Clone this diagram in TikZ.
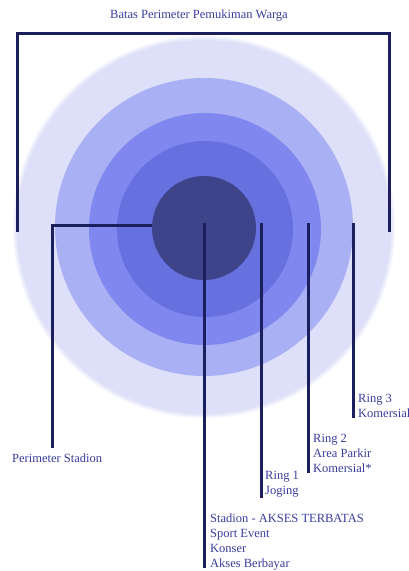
\documentclass[tikz,border=0pt]{standalone}
\usepackage{fontspec}
\setmainfont{Liberation Serif}
\definecolor{ringA}{HTML}{DDE0F8}
\definecolor{ringB}{HTML}{AAB0F4}
\definecolor{ringC}{HTML}{8088F0}
\definecolor{ringD}{HTML}{6770DF}
\definecolor{coreC}{HTML}{3F4389}
\definecolor{lineC}{HTML}{1C1F5E}
\definecolor{textC}{HTML}{3A3E9E}
\tikzset{
  disc/.style={circle, inner sep=0pt, draw=none},
  leader/.style={draw=lineC, line width=3pt},
  label/.style={font=\fontsize{12.5}{15}\selectfont, text=textC, align=left, inner sep=0pt, anchor=north west},
}
\begin{document}
\begin{tikzpicture}[x=1pt,y=-1pt]
\useasboundingbox (0,0) rectangle (409,571);
\fill[white] (0,0) rectangle (409,571);
% rings (outer one with a soft edge)
\node[disc, fill=ringA!35, minimum size=382pt] (r4c) at (204,227) {};
\node[disc, fill=ringA!70, minimum size=378pt] (r4b) at (204,227) {};
\node[disc, fill=ringA, minimum size=374pt] (r4) at (204,227) {};
\node[disc, fill=ringB, minimum size=298pt] (r3) at (204,227) {};
\node[disc, fill=ringC, minimum size=232pt] (r2) at (205,229) {};
\node[disc, fill=ringD, minimum size=176pt] (r1) at (205,229) {};
\node[disc, fill=coreC, minimum size=104pt] (core) at (204,228) {};
% title and boundary bracket
\node[label, anchor=north] (title) at (199,10) {Batas Perimeter Pemukiman Warga};
\coordinate (bl) at (17,232);
\coordinate (br) at (389,232);
\draw[leader] (bl) |- (389,33) -- (br);
% perimeter stadion
\coordinate (psend) at (52,448);
\draw[leader] (core.west |- 0,225) -| (psend);
\node[label] (pstext) at (12,454) {Perimeter Stadion};
% stadion
\coordinate (s0) at (204,223);
\coordinate (s1) at (204,568);
\draw[leader] (s0) -- (s1);
\node[label] (stext) at (210,514) {Stadion - AKSES TERBATAS\\Sport Event\\Konser\\Akses Berbayar};
% ring 1
\coordinate (a0) at (261,223);
\coordinate (a1) at (261,498);
\draw[leader] (a0) -- (a1);
\node[label] (atext) at (265,471) {Ring 1\\Joging};
% ring 2
\coordinate (b0) at (308,223);
\coordinate (b1) at (308,473);
\draw[leader] (b0) -- (b1);
\node[label] (btext) at (313,434) {Ring 2\\Area Parkir\\Komersial*};
% ring 3
\coordinate (c0) at (353,223);
\coordinate (c1) at (353,418);
\draw[leader] (c0) -- (c1);
\node[label] (ctext) at (358,394) {Ring 3\\Komersial};
\end{tikzpicture}
\end{document}
